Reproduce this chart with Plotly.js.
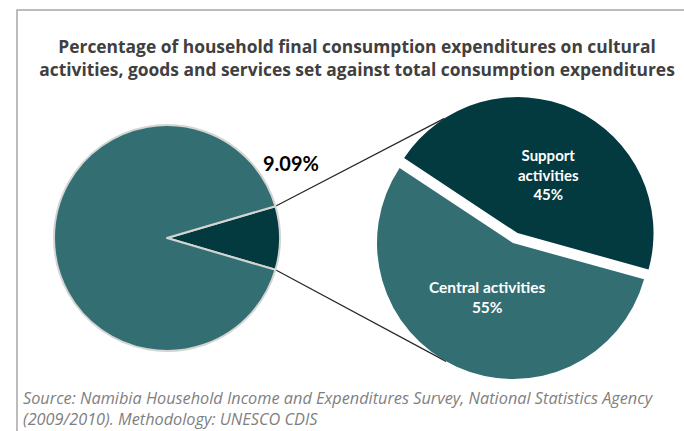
<!DOCTYPE html>
<html><head><meta charset="utf-8">
<script src="https://cdn.plot.ly/plotly-3.0.1.min.js"></script>
<style>html,body{margin:0;padding:0;background:#fff}#chart{width:684px;height:431px}</style>
</head><body><div id="chart"></div>
<script>
// ---- data ----
const titleLines = ['Percentage of household final consumption expenditures on cultural',
                    'activities, goods and services set against total consumption expenditures'];
const mainLabels = ['Cultural activities, goods and services', 'Other consumption expenditures'];
const mainValues = [9.09, 90.91];
const subLabels = ['Support activities', 'Central activities'];
const subValues = [45, 55];
const sourceLines = ['Source: Namibia Household Income and Expenditures Survey, National Statistics Agency',
                     '(2009/2010). Methodology: UNESCO CDIS'];

// ---- layout / geometry ----
const W = 684, H = 431;
const DARK = '#023a40', TEAL = '#336e72';
const FONT = 'Lato, "Open Sans", sans-serif';
const FONT2 = '"Open Sans", Lato, sans-serif';
const px = x => x / W, py = y => 1 - y / H;
const L = {cx: 167, cy: 238, r: 113};
const R = {cx: 513, cy: 243, r: 136, pull: 0.08};
const subRotation = -56.5;
const connectorAngles = [-32.5, 209.5];

const mainShare = mainValues[0] / (mainValues[0] + mainValues[1]);
const halfAng = mainShare * 180;
const mainRotation = 90 - halfAng;
const subShare = subValues[0] / (subValues[0] + subValues[1]);
const deg = Math.PI / 180;
const pt = (c, r, a) => [c[0] + r * Math.sin(a * deg), c[1] - r * Math.cos(a * deg)];

const Rr = R.r * (1 + R.pull);
const traces = [
  {type: 'pie', values: mainValues, labels: mainLabels, sort: false, direction: 'clockwise',
   rotation: mainRotation, marker: {colors: [DARK, TEAL], line: {color: '#d4d4d4', width: 2}},
   textinfo: 'none', hoverinfo: 'label+percent', showlegend: false,
   domain: {x: [px(L.cx - L.r), px(L.cx + L.r)], y: [py(L.cy + L.r), py(L.cy - L.r)]}},
  {type: 'pie', values: subValues, labels: subLabels, sort: false, direction: 'clockwise',
   rotation: subRotation, pull: [R.pull, 0], marker: {colors: [DARK, TEAL], line: {color: '#ffffff', width: 0}},
   textinfo: 'none', hoverinfo: 'label+percent', showlegend: false,
   domain: {x: [px(R.cx - Rr), px(R.cx + Rr)], y: [py(R.cy + Rr), py(R.cy - Rr)]}}
];

// connector lines
const lUp = pt([L.cx, L.cy], L.r, 90 - halfAng);
const lDn = pt([L.cx, L.cy], L.r, 90 + halfAng);
const bis = subRotation + subShare * 180;
const pulledC = pt([R.cx, R.cy], R.r * R.pull, bis);
const rUp = pt(pulledC, R.r, connectorAngles[0]);
const rDn = pt([R.cx, R.cy], R.r, connectorAngles[1]);
const line = (a, b) => ({type: 'line', xref: 'paper', yref: 'paper', x0: px(a[0]), y0: py(a[1]),
  x1: px(b[0]), y1: py(b[1]), line: {color: '#262626', width: 1.2}, layer: 'below'});

const shapes = [
  {type: 'rect', xref: 'paper', yref: 'paper', x0: px(17), y0: -0.1, x1: 1.1, y1: py(10),
   line: {color: '#a6a6a6', width: 1.5}, fillcolor: 'rgba(0,0,0,0)', layer: 'below'},
  line(lUp, rUp), line(lDn, rDn)
];

const ann = (x, y, text, font, extra) => Object.assign({xref: 'paper', yref: 'paper', x: px(x), y: py(y),
  text, showarrow: false, xanchor: 'center', yanchor: 'middle', font}, extra || {});
const annotations = [
  ann(291, 163, mainValues[0].toFixed(2) + '%', {family: FONT, size: 20, color: '#000', weight: 'bold'}),
  ann(548, 174, subLabels[0].replace(' ', '<br>') + '<br>' + subValues[0] + '%',
      {family: FONT, size: 15, color: '#fff', weight: 'bold'}),
  ann(487, 297, subLabels[1] + '<br>' + subValues[1] + '%',
      {family: FONT, size: 15.5, color: '#fff', weight: 'bold'}),
  ann(21, 398, sourceLines[0], {family: FONT2, size: 16.3, color: '#7f7f7f', style: 'italic'}, {xanchor: 'left'}),
  ann(21, 419, sourceLines[1], {family: FONT2, size: 16.3, color: '#7f7f7f', style: 'italic'}, {xanchor: 'left'})
];

const layout = {
  width: W, height: H, margin: {l: 0, r: 0, t: 0, b: 0},
  paper_bgcolor: '#fff', plot_bgcolor: '#fff',
  title: {text: titleLines.join('<br>'), x: px(357), xanchor: 'center', y: py(53), yanchor: 'middle',
          font: {family: FONT2, size: 17.4, color: '#404040', weight: 'bold'}},
  shapes, annotations, showlegend: false
};
Plotly.newPlot('chart', traces, layout, {displayModeBar: false, staticPlot: true});
</script></body></html>
